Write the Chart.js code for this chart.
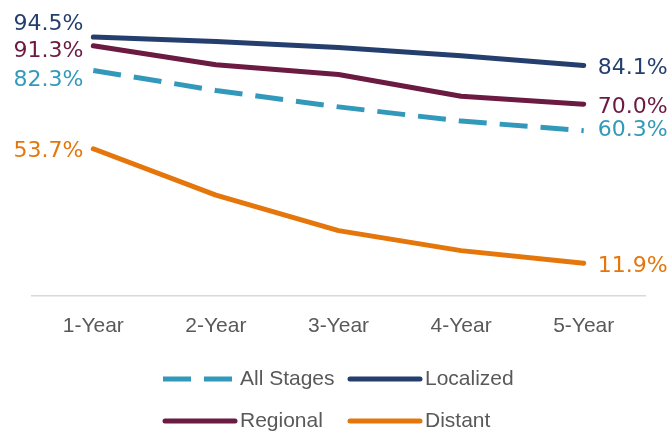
<!DOCTYPE html>
<html>
<head>
<meta charset="utf-8">
<script src="https://cdn.jsdelivr.net/npm/chart.js@4.4.1/dist/chart.umd.min.js"></script>
<style>
  html, body { margin: 0; padding: 0; background: #fff; }
  #wrap { width: 669px; height: 434px; }
</style>
</head>
<body>
<div id="wrap"><canvas id="survivalChart"></canvas></div>
<script>
const categories = ['1-Year', '2-Year', '3-Year', '4-Year', '5-Year'];
const allStages = [82.3, 75.0, 69.0, 63.8, 60.3];
const localized = [94.5, 92.9, 90.7, 87.7, 84.1];
const regional = [91.3, 84.4, 80.8, 72.9, 70.0];
const distant = [53.7, 36.8, 23.8, 16.5, 11.9];

const TEXT_FONT = '"Liberation Sans", Arial, sans-serif';
const VALUE_FONT = '"DejaVu Sans", sans-serif';

// vertical nudges for the end labels so they don't collide
const labelShift = [
  { first: 10, last: 0 },   // All Stages
  { first: -13, last: 3 },  // Localized
  { first: 5, last: 3 },    // Regional
  { first: 3, last: 3 }     // Distant
];

// first / last value labels
const endLabels = {
  id: 'endLabels',
  afterDatasetsDraw(chart) {
    const ctx = chart.ctx;
    ctx.save();
    ctx.font = '22px ' + VALUE_FONT;
    ctx.textBaseline = 'middle';
    chart.data.datasets.forEach((ds, i) => {
      const pts = chart.getDatasetMeta(i).data;
      const first = pts[0], last = pts[pts.length - 1];
      ctx.fillStyle = ds.borderColor;
      ctx.textAlign = 'right';
      ctx.fillText(ds.data[0].toFixed(1) + '%', first.x - 10, first.y + labelShift[i].first);
      ctx.textAlign = 'left';
      ctx.fillText(ds.data[ds.data.length - 1].toFixed(1) + '%', last.x + 14, last.y + labelShift[i].last);
    });
    ctx.restore();
  }
};

// two-column legend under the axis
const gridLegend = {
  id: 'gridLegend',
  afterDraw(chart) {
    const ctx = chart.ctx;
    const cols = [163, 348];
    const rows = [379, 421];
    ctx.save();
    ctx.font = '21px ' + TEXT_FONT;
    ctx.textBaseline = 'middle';
    ctx.textAlign = 'left';
    chart.data.datasets.forEach((ds, i) => {
      const x = cols[i % 2], y = rows[Math.floor(i / 2)];
      ctx.strokeStyle = ds.borderColor;
      ctx.lineWidth = 5;
      ctx.lineCap = ds.borderDash ? 'butt' : 'round';
      ctx.setLineDash(ds.borderDash || []);
      ctx.beginPath();
      ctx.moveTo(x + (ds.borderDash ? 0 : 2), y);
      ctx.lineTo(x + 72, y);
      ctx.stroke();
      ctx.setLineDash([]);
      ctx.fillStyle = '#595959';
      ctx.fillText(ds.label, x + 77, y);
    });
    ctx.restore();
  }
};

new Chart(document.getElementById('survivalChart'), {
  type: 'line',
  data: {
    labels: categories,
    datasets: [
      { label: 'All Stages', data: allStages, borderColor: '#3399BB', borderDash: [28, 13], borderCapStyle: 'butt' },
      { label: 'Localized', data: localized, borderColor: '#243F6D' },
      { label: 'Regional', data: regional, borderColor: '#6B1A42' },
      { label: 'Distant', data: distant, borderColor: '#E5760B' }
    ]
  },
  options: {
    responsive: true,
    maintainAspectRatio: false,
    animation: false,
    datasets: {
      line: {
        borderWidth: 5,
        borderCapStyle: 'round',
        borderJoinStyle: 'round',
        pointRadius: 0,
        tension: 0
      }
    },
    layout: { padding: { top: 22, left: 32, right: 24, bottom: 85 } },
    plugins: {
      legend: { display: false },
      tooltip: { enabled: false }
    },
    scales: {
      x: {
        offset: true,
        grid: { display: false },
        border: { color: '#D9D9D9', width: 1.5 },
        ticks: { color: '#595959', font: { family: TEXT_FONT, size: 21 }, padding: 10 }
      },
      y: {
        display: false,
        min: 0,
        max: 100
      }
    }
  },
  plugins: [endLabels, gridLegend]
});
</script>
</body>
</html>
